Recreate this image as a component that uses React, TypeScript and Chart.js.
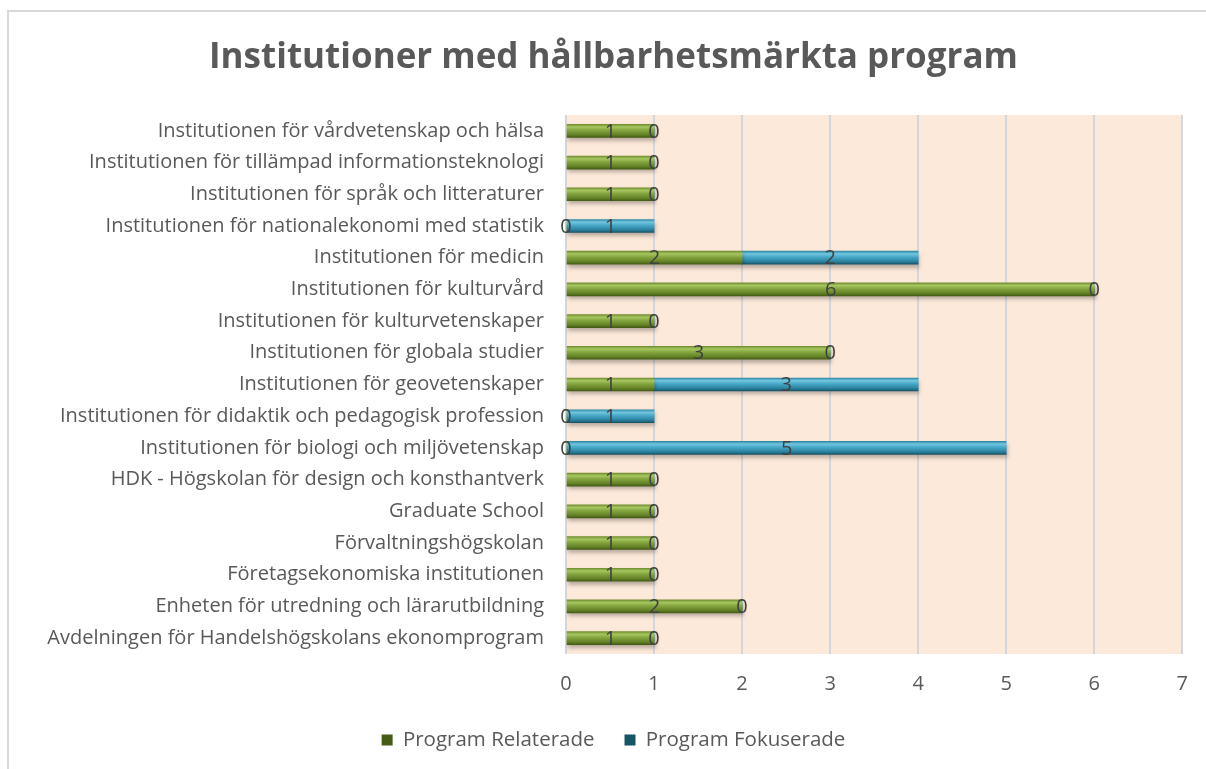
import { useEffect, useRef } from "react";
import { Chart, registerables } from "chart.js";

Chart.register(...registerables);

const categories = [
  "Institutionen för vårdvetenskap och hälsa",
  "Institutionen för tillämpad informationsteknologi",
  "Institutionen för språk och litteraturer",
  "Institutionen för nationalekonomi med statistik",
  "Institutionen för medicin",
  "Institutionen för kulturvård",
  "Institutionen för kulturvetenskaper",
  "Institutionen för globala studier",
  "Institutionen för geovetenskaper",
  "Institutionen för didaktik och pedagogisk profession",
  "Institutionen för biologi och miljövetenskap",
  "HDK - Högskolan för design och konsthantverk",
  "Graduate School",
  "Förvaltningshögskolan",
  "Företagsekonomiska institutionen",
  "Enheten för utredning och lärarutbildning",
  "Avdelningen för Handelshögskolans ekonomprogram",
];

const programRelaterade = [1, 1, 1, 0, 2, 6, 1, 3, 1, 0, 0, 1, 1, 1, 1, 2, 1];
const programFokuserade = [0, 0, 0, 1, 2, 0, 0, 0, 3, 1, 5, 0, 0, 0, 0, 0, 0];

const seriesNames = ["Program Relaterade", "Program Fokuserade"];
const xMin = 0;
const xMax = 7;
const chartTitle = "Institutioner med hållbarhetsmärkta program";

const FONT = "'Open Sans', 'DejaVu Sans', sans-serif";
const BAR_T = 13;

const greenStops: [number, string][] = [
  [0, "#728f30"],
  [0.2, "#a6c660"],
  [0.45, "#85a540"],
  [0.8, "#638126"],
  [1, "#445c15"],
];
const blueStops: [number, string][] = [
  [0, "#2f8aa8"],
  [0.2, "#72c6df"],
  [0.45, "#47a8c8"],
  [0.8, "#2a819e"],
  [1, "#185468"],
];

function gradientFill(stops: [number, string][], solid: string) {
  return (ctx: any) => {
    if (ctx.type !== "data") return solid;
    const chart = ctx.chart;
    const y = chart.scales && chart.scales.y;
    if (!y || !chart.chartArea) return solid;
    const c = y.getPixelForValue(ctx.dataIndex);
    const g = chart.ctx.createLinearGradient(0, c - BAR_T / 2, 0, c + BAR_T / 2);
    stops.forEach(([o, col]) => g.addColorStop(o, col));
    return g;
  };
}

const plotBg = {
  id: "plotBg",
  beforeDraw(chart: any) {
    const { ctx, chartArea } = chart;
    if (!chartArea) return;
    ctx.save();
    ctx.fillStyle = "#fde9d9";
    ctx.fillRect(chartArea.left, chartArea.top, chartArea.right - chartArea.left, chartArea.bottom - chartArea.top);
    ctx.restore();
  },
};

const barShadow = {
  id: "barShadow",
  beforeDatasetsDraw(chart: any) {
    const ctx = chart.ctx;
    ctx.save();
    ctx.shadowColor = "rgba(0,0,0,0.28)";
    ctx.shadowOffsetX = 1;
    ctx.shadowOffsetY = 3;
    ctx.shadowBlur = 4;
  },
  afterDatasetsDraw(chart: any) {
    chart.ctx.restore();
  },
};

const dataLabels = {
  id: "dataLabels",
  afterDatasetsDraw(chart: any) {
    const ctx = chart.ctx;
    ctx.save();
    ctx.font = `20px ${FONT}`;
    ctx.fillStyle = "#404040";
    ctx.textAlign = "center";
    ctx.textBaseline = "middle";
    chart.data.datasets.forEach((ds: any, di: number) => {
      const meta = chart.getDatasetMeta(di);
      meta.data.forEach((el: any, i: number) => {
        const v = ds.data[i];
        const cx = (el.x + el.base) / 2;
        ctx.fillText(String(v), cx, el.y + 1);
      });
    });
    ctx.restore();
  },
};

export default function App() {
  const ref = useRef<HTMLCanvasElement | null>(null);

  useEffect(() => {
    if (!ref.current) return;
    const chart = new Chart(ref.current, {
      type: "bar",
      data: {
        labels: categories,
        datasets: [
          {
            label: seriesNames[0],
            data: programRelaterade,
            backgroundColor: gradientFill(greenStops, "#77933c"),
            barThickness: BAR_T,
          },
          {
            label: seriesNames[1],
            data: programFokuserade,
            backgroundColor: gradientFill(blueStops, "#31859c"),
            barThickness: BAR_T,
          },
        ],
      },
      options: {
        indexAxis: "y",
        responsive: false,
        animation: false,
        layout: { padding: { left: 44, right: 23, top: 0, bottom: 8.75 } },
        scales: {
          x: {
            stacked: true,
            min: xMin,
            max: xMax,
            ticks: { stepSize: 1, color: "#595959", font: { family: FONT, size: 20 }, padding: 18 },
            grid: { color: "#d3d6db", lineWidth: 2, drawTicks: false },
            border: { display: false },
            afterFit: (s: any) => {
              s.height = 45.75;
            },
          },
          y: {
            stacked: true,
            ticks: { color: "#595959", font: { family: FONT, size: 20 }, padding: 22, autoSkip: false },
            grid: { display: false, drawTicks: false },
            border: { display: false },
            afterFit: (s: any) => {
              s.width = 522;
            },
          },
        },
        plugins: {
          title: {
            display: true,
            text: chartTitle,
            color: "#595959",
            font: { family: FONT, size: 35, weight: "bold" },
            padding: { top: 37, bottom: 36 },
          },
          legend: {
            position: "bottom",
            labels: {
              color: "#595959",
              font: { family: FONT, size: 20.5 },
              boxWidth: 11,
              boxHeight: 11,
              padding: 30,
            },
          },
          tooltip: { enabled: false },
        },
      },
      plugins: [plotBg, barShadow, dataLabels],
    });
    return () => chart.destroy();
  }, []);

  return (
    <div
      style={{
        position: "absolute",
        left: 0,
        top: 0,
        width: 1206,
        height: 769,
        overflow: "hidden",
        background: "#ffffff",
      }}
    >
      <div
        style={{
          position: "absolute",
          left: 7,
          top: 10,
          width: 1400,
          height: 1000,
          border: "2px solid #d9d9d9",
        }}
      />
      <canvas
        ref={ref}
        width={1206}
        height={769}
        style={{ position: "absolute", left: 0, top: 0, width: 1206, height: 769 }}
      />
    </div>
  );
}
